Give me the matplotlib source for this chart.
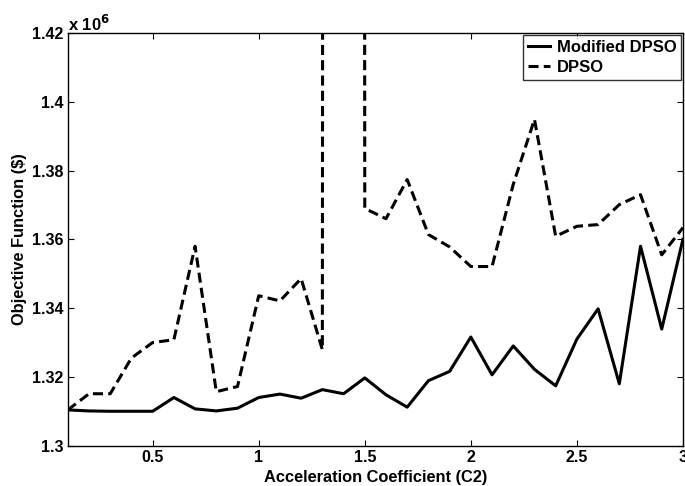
import numpy as np
import matplotlib
matplotlib.use('Agg')
import matplotlib.pyplot as plt

plt.rcParams['font.family'] = ['Liberation Sans', 'DejaVu Sans']
plt.rcParams['font.weight'] = 'bold'

# acceleration coefficient C2
c2 = [0.1, 0.2, 0.3, 0.4, 0.5, 0.6, 0.7, 0.8, 0.9, 1.0,
      1.1, 1.2, 1.3, 1.4, 1.5, 1.6, 1.7, 1.8, 1.9, 2.0,
      2.1, 2.2, 2.3, 2.4, 2.5, 2.6, 2.7, 2.8, 2.9, 3.0]

# objective function values (x 10^6)
modified_dpso = [1.3104, 1.3101, 1.3100, 1.3100, 1.3100, 1.3140, 1.3107, 1.3101, 1.3109, 1.3140,
                 1.3150, 1.3138, 1.3163, 1.3151, 1.3197, 1.3148, 1.3112, 1.3189, 1.3216, 1.3316,
                 1.3206, 1.3290, 1.3222, 1.3174, 1.3310, 1.3398, 1.3180, 1.3580, 1.3339, 1.3600]
dpso = [1.3104, 1.3151, 1.3151, 1.3255, 1.3300, 1.3308, 1.3580, 1.3157, 1.3172, 1.3436,
        1.3421, 1.3486, 1.3279, 9.5000, 1.3690, 1.3660, 1.3774, 1.3614, 1.3578, 1.3521,
        1.3521, 1.3760, 1.3949, 1.3609, 1.3638, 1.3643, 1.3701, 1.3730, 1.3555, 1.3634]

yticks = [1.3, 1.32, 1.34, 1.36, 1.38, 1.4, 1.42]
ylabels = ['1.3', '1.32', '1.34', '1.36', '1.38', '1.4', '1.42']
xticks = [0.5, 1, 1.5, 2, 2.5, 3]
xlabels = ['0.5', '1', '1.5', '2', '2.5', '3']

fig = plt.figure(figsize=(6.85, 4.86), dpi=100)
ax = fig.add_axes([0.099, 0.083, 0.898, 0.849])

ax.plot(c2, modified_dpso, 'k-', lw=2.2, label='Modified DPSO')
ax.plot(c2, dpso, 'k--', lw=2.2, dashes=(3.3, 1.7), label='DPSO')

ax.set_xlim(0.1, 3)
ax.set_ylim(1.3, 1.42)
ax.set_xticks(xticks)
ax.set_xticklabels(xlabels)
ax.set_yticks(yticks)
ax.set_yticklabels(ylabels)
ax.tick_params(direction='in', top=True, right=True, labelsize=11.5, length=4, pad=3)
for lab in ax.get_xticklabels() + ax.get_yticklabels():
    lab.set_fontweight('bold')
for s in ax.spines.values():
    s.set_linewidth(1.0)

ax.text(0.0, 0.997, r'x 10$^{\mathbf{6}}$', transform=ax.transAxes, fontsize=12,
        fontweight='bold', ha='left', va='bottom')

ax.set_xlabel('Acceleration Coefficient (C2)', fontsize=11.8, fontweight='bold', labelpad=4)
ax.set_ylabel('Objective Function (\\$)', fontsize=11.8, fontweight='bold', labelpad=4)

leg = ax.legend(loc='upper right', fontsize=12, frameon=True, fancybox=False,
                edgecolor='black', borderaxespad=0.1, handlelength=1.3,
                borderpad=0.3, labelspacing=0.3, handletextpad=0.4)
leg.get_frame().set_linewidth(1.0)
for t in leg.get_texts():
    t.set_fontweight('bold')

fig.savefig('out.png', dpi=100)
